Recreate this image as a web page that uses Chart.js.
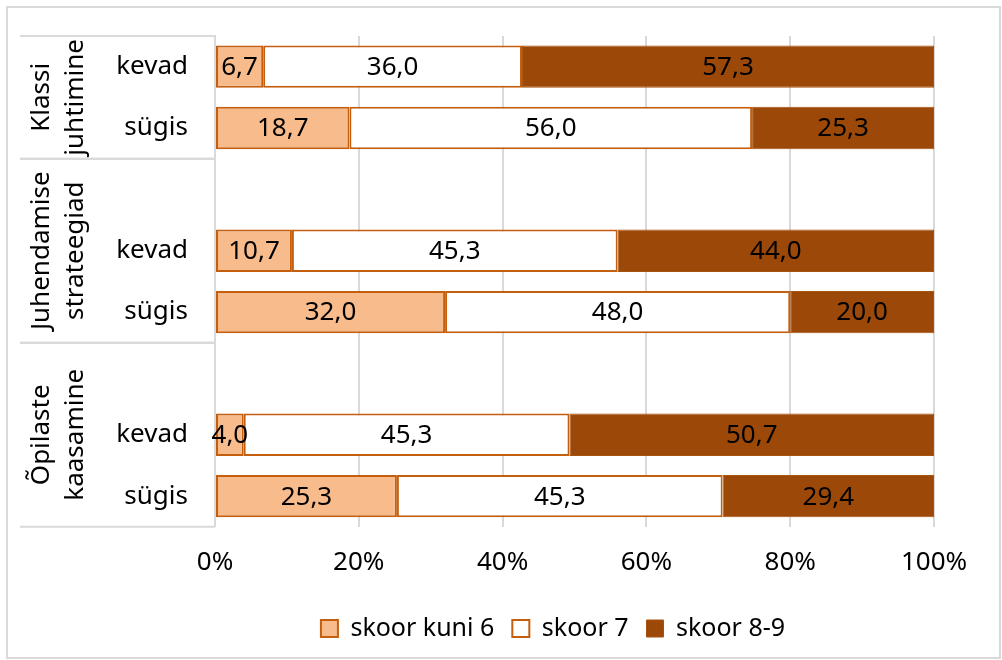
<!DOCTYPE html>
<html>
<head>
<meta charset="utf-8">
<script src="https://cdn.jsdelivr.net/npm/chart.js@4.4.0/dist/chart.umd.min.js"></script>
<style>
    body { margin: 0; background: #fff; }
    #raam { position: absolute; left: 6px; top: 6px; width: 995px; height: 653px; border: 2px solid #d9d9d9; box-sizing: border-box; }
    #wrap { position: absolute; left: 0; top: 0; width: 1002px; height: 660px; }
</style>
</head>
<body>
<div id="raam"></div>
<div id="wrap"><canvas id="graafik" width="1002" height="660"></canvas></div>
<script>
const kategooriad = ['kevad', 'sügis', '', 'kevad', 'sügis', '', 'kevad', 'sügis'];
const grupid = [['Klassi', 'juhtimine'], ['Juhendamise', 'strateegiad'], ['Õpilaste', 'kaasamine']];
const grupiAlgus = [0, 2, 5];
const grupiLopp = [1, 4, 7];
const skoorKuni6 = [6.7, 18.7, null, 10.7, 32.0, null, 4.0, 25.3];
const skoor7 = [36.0, 56.0, null, 45.3, 48.0, null, 45.3, 45.3];
const skoor89 = [57.3, 25.3, null, 44.0, 20.0, null, 50.7, 29.4];
const xTicks = [0, 20, 40, 60, 80, 100];

const FONT = '"Noto Sans", sans-serif';
const joon = '#d9d9d9';

// arvud ribade sisse
const vaartusedPlugin = {
    id: 'vaartused',
    afterDatasetsDraw(chart) {
        const ctx = chart.ctx;
        ctx.save();
        ctx.font = '26px ' + FONT;
        ctx.fillStyle = '#000';
        ctx.textAlign = 'center';
        ctx.textBaseline = 'middle';
        chart.data.datasets.forEach((ds, i) => {
            chart.getDatasetMeta(i).data.forEach((bar, j) => {
                const v = ds.data[j];
                if (v == null) return;
                ctx.fillText(v.toFixed(1).replace('.', ','), (bar.x + bar.base) / 2, bar.y + 1);
            });
        });
        ctx.restore();
    }
};

// kategooriad, grupi nimed ja tabeli jooned vasakul
const grupidPlugin = {
    id: 'grupid',
    afterDraw(chart) {
        const y = chart.scales.y;
        const ctx = chart.ctx;
        const pool = (y.getPixelForValue(1) - y.getPixelForValue(0)) / 2;
        const parem = chart.chartArea.left;
        ctx.save();
        ctx.font = '26px ' + FONT;
        ctx.fillStyle = '#000';
        ctx.textBaseline = 'middle';
        ctx.textAlign = 'right';
        chart.data.labels.forEach((l, i) => {
            ctx.fillText(l, parem - 27, y.getPixelForValue(i));
        });

        ctx.strokeStyle = joon;
        ctx.lineWidth = 2;
        ctx.textAlign = 'center';
        grupid.forEach((g, i) => {
            const ylal = y.getPixelForValue(grupiAlgus[i]) - pool;
            const all = y.getPixelForValue(grupiLopp[i]) + pool;
            ctx.beginPath();
            ctx.moveTo(20, ylal);
            ctx.lineTo(parem, ylal);
            ctx.moveTo(20, all);
            ctx.lineTo(parem, all);
            ctx.stroke();

            ctx.save();
            ctx.translate(59, (ylal + all) / 2);
            ctx.rotate(-Math.PI / 2);
            ctx.fillText(g[0], 0, -17);
            ctx.fillText(g[1], 0, 17);
            ctx.restore();
        });
        ctx.restore();
    }
};

new Chart(document.getElementById('graafik'), {
    type: 'bar',
    data: {
        labels: kategooriad,
        datasets: [{
            label: 'skoor kuni 6',
            data: skoorKuni6,
            backgroundColor: '#F8BB8C',
            borderColor: '#C55F10',
            borderWidth: 2,
            borderSkipped: false
        }, {
            label: 'skoor 7',
            data: skoor7,
            backgroundColor: '#FFFFFF',
            borderColor: '#C55F10',
            borderWidth: 2,
            borderSkipped: false
        }, {
            label: 'skoor 8-9',
            data: skoor89,
            backgroundColor: '#9C4808',
            borderColor: '#A9520C',
            borderWidth: 1,
            borderSkipped: false
        }]
    },
    options: {
        indexAxis: 'y',
        responsive: false,
        animation: false,
        barPercentage: 0.69,
        categoryPercentage: 1,
        layout: {
            padding: { left: 172, right: 68, top: 36, bottom: 9 }
        },
        scales: {
            x: {
                stacked: true,
                min: 0,
                max: 100,
                afterBuildTicks: (s) => { s.ticks = xTicks.map(v => ({ value: v })); },
                grid: { color: joon, lineWidth: 2, drawTicks: false },
                border: { display: false },
                ticks: {
                    padding: 20,
                    color: '#000',
                    font: { family: FONT, size: 26 },
                    callback: (v) => v + '%'
                }
            },
            y: {
                stacked: true,
                afterFit: (s) => { s.width = 43; },
                grid: { display: false },
                border: { display: true, color: joon, width: 2 },
                ticks: { display: false }
            }
        },
        plugins: {
            legend: {
                position: 'bottom',
                labels: {
                    boxWidth: 17,
                    boxHeight: 17,
                    padding: 18,
                    color: '#000',
                    font: { family: FONT, size: 25 }
                }
            },
            tooltip: { enabled: false }
        }
    },
    plugins: [vaartusedPlugin, grupidPlugin]
});
</script>
</body>
</html>
